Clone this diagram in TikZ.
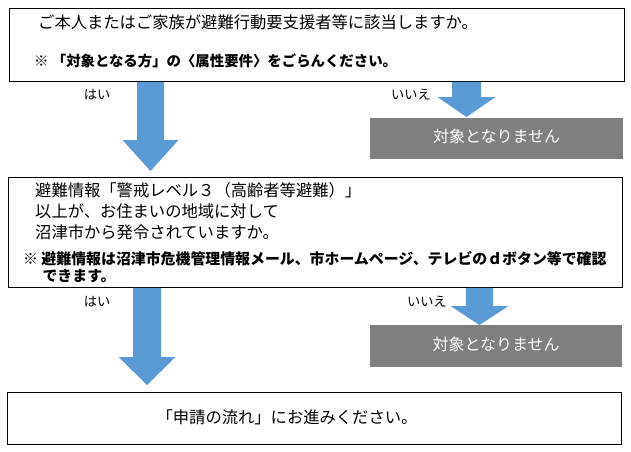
\documentclass[tikz,border=0pt]{standalone}
\usepackage{fontspec}
\setmainfont{Noto Sans CJK JP}
\usetikzlibrary{calc}
\definecolor{arrowblue}{HTML}{5B9BD5}
\definecolor{boxgray}{HTML}{7F7F7F}
\tikzset{
  qbox/.style={draw=black, line width=0.9pt, fill=white, inner sep=0pt, anchor=north west},
  nobox/.style={fill=boxgray, inner sep=0pt, anchor=north west, text=white, font=\fontsize{16}{16}\selectfont},
  maintext/.style={inner sep=0pt, anchor=west, font=\fontsize{16.3}{20.8}\selectfont, align=left},
  notetext/.style={inner sep=0pt, anchor=west, font=\bfseries\fontsize{14.9}{17}\selectfont, align=left},
  answer/.style={inner sep=0pt, font=\fontsize{13.2}{13.2}\selectfont},
  arrowfill/.style={fill=arrowblue}
}
% #1 from node, #2 centre x, #3 shaft half width, #4 head half width, #5 head start y, #6 tip y
\newcommand\flowarrow[6]{%
  \fill[arrowfill] let \p1=(#1.south) in
    ({#2-#3},\y1) -- ({#2+#3},\y1) -- ({#2+#3},#5) -- ({#2+#4},#5) --
    (#2,#6) -- ({#2-#4},#5) -- ({#2-#3},#5) -- cycle;}
\begin{document}
\begin{tikzpicture}[x=1pt,y=-1pt]
\useasboundingbox (0,0) rectangle (631,451);
% boxes
\node[qbox, minimum width=615pt, minimum height=73pt] (b1) at (9,8) {};
\node[qbox, minimum width=614pt, minimum height=110pt] (b2) at (8,177) {};
\node[qbox, minimum width=614pt, minimum height=52pt] (b3) at (7,392) {};
\node[nobox, minimum width=253pt, minimum height=41pt] (n1) at (370,118) {\raisebox{5pt}{対象となりません}};
\node[nobox, minimum width=252pt, minimum height=42pt] (n2) at (370,325) {\raisebox{4pt}{対象となりません}};
% texts
\node[maintext] (t1a) at (38,22.5) {ご本人またはご家族が避難行動要支援者等に該当しますか。};
\node[notetext, font=\bfseries\fontsize{14.4}{17}\selectfont] (t1b) at (34,61) {※ 「対象となる方」の〈属性要件〉をごらんください。};
\node[maintext] (t2) at (35,211) {避難情報「警戒レベル３（高齢者等避難）」\\以上が、お住まいの地域に対して\\沼津市から発令されていますか。};
\node[notetext] (t2n) at (23,267.5) {※ 避難情報は沼津市危機管理情報メール、市ホームページ、テレビのｄボタン等で確認\\\hspace*{1.3em}できます。};
\node[maintext, anchor=center] (t3) at (287,417) {「申請の流れ」にお進みください。};
% answers
\node[answer] (y1) at (97,95) {はい};
\node[answer] (x1) at (411,95) {いいえ};
\node[answer] (y2) at (97,302) {はい};
\node[answer] (x2) at (427,302) {いいえ};
% arrows
\flowarrow{b1}{150.5}{13.5}{28}{140}{171}
\flowarrow{b1}{466.5}{14.5}{29}{97}{117}
\flowarrow{b2}{147}{14}{28.5}{357}{385}
\flowarrow{b2}{479.5}{13.7}{29}{306}{325}
\end{tikzpicture}
\end{document}
